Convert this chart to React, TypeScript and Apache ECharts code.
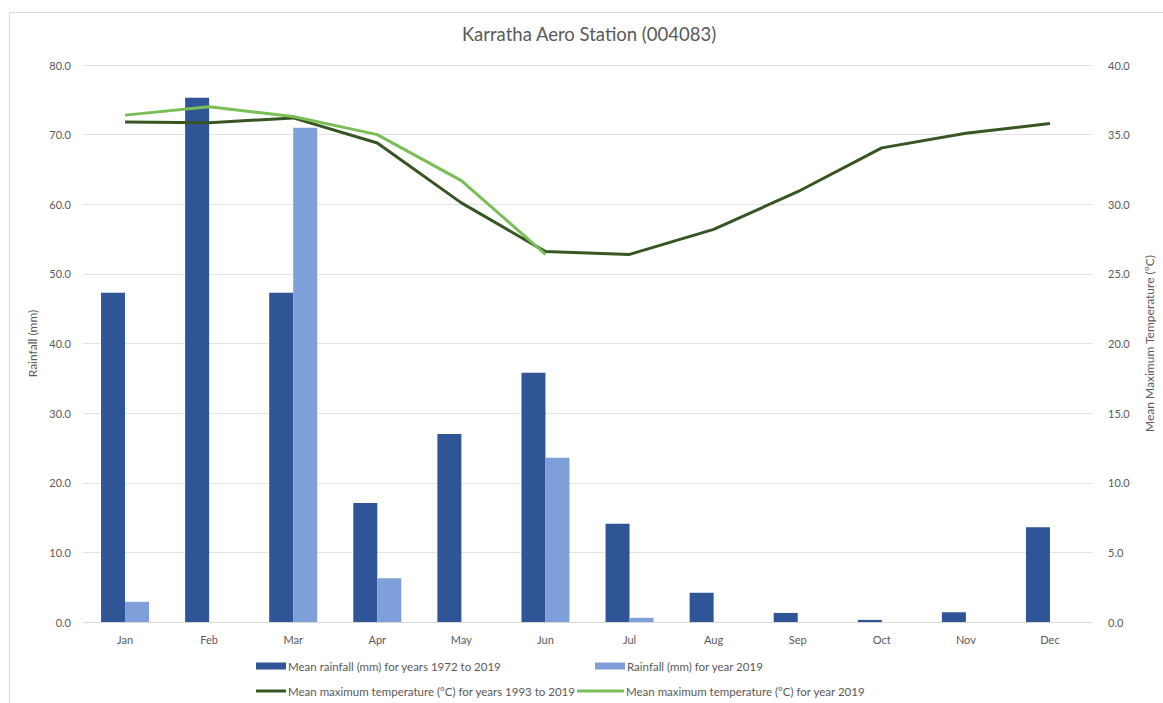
import React, { useEffect, useRef } from "react";
import * as echarts from "echarts";

const months = ["Jan", "Feb", "Mar", "Apr", "May", "Jun", "Jul", "Aug", "Sep", "Oct", "Nov", "Dec"];
const meanRainfall = [47.3, 75.3, 47.3, 17.1, 27.0, 35.8, 14.1, 4.2, 1.3, 0.3, 1.4, 13.6];
const rainfall2019 = [2.9, 0, 71.0, 6.3, 0, 23.6, 0.6, 0, 0, 0, 0, 0];
const meanMaxTemp = [35.9, 35.85, 36.2, 34.4, 30.1, 26.6, 26.4, 28.2, 30.9, 34.05, 35.1, 35.8];
const maxTemp2019 = [36.4, 37.0, 36.3, 35.0, 31.7, 26.4, null, null, null, null, null, null];
const leftTicks = { min: 0, max: 80, interval: 10 };
const rightTicks = { min: 0, max: 40, interval: 5 };

const names = [
  "Mean rainfall (mm) for years 1972 to 2019",
  "Rainfall (mm) for year 2019",
  "Mean maximum temperature (°C) for years 1993 to 2019",
  "Mean maximum temperature (°C) for year 2019",
];

const FONT = "Lato";
const TXT = "#595959";

export default function App() {
  const ref = useRef<HTMLDivElement>(null);
  useEffect(() => {
    if (!ref.current) return;
    const chart = echarts.init(ref.current, null, { renderer: "svg" });
    const mkLegend = (name: string, left: number, top: number, line: boolean, w: number) => ({
      data: [{ name, icon: "rect" }],
      left,
      top,
      itemWidth: w,
      itemHeight: line ? 3 : 7,
      itemGap: 0,
      textStyle: { color: TXT, fontFamily: FONT, fontSize: 11.5, padding: [0, 0, 0, -3] },
      selectedMode: false,
      padding: 0,
    });
    chart.setOption({
      animation: false,
      backgroundColor: "#fff",
      textStyle: { fontFamily: FONT },
      title: {
        text: "Karratha Aero Station (004083)",
        left: 584,
        textAlign: "center",
        top: 19,
        textStyle: { color: TXT, fontFamily: FONT, fontSize: 18.5, fontWeight: "normal" },
      },
      graphic: [
        {
          type: "rect",
          shape: { x: 9.5, y: 12.5, width: 1300, height: 900 },
          style: { fill: "none", stroke: "#d9d9d9", lineWidth: 1 },
          silent: true,
          z: -1,
        },
      ],
      legend: [
        mkLegend(names[0], 256, 660, false, 30),
        mkLegend(names[1], 595, 660, false, 30),
        mkLegend(names[2], 256, 685, true, 30),
        mkLegend(names[3], 577, 685, true, 47),
      ],
      grid: { left: 83, right: 66, top: 65, bottom: 81 },
      xAxis: {
        type: "category",
        data: months,
        axisLine: { lineStyle: { color: "#d9d9d9" } },
        axisTick: { show: false },
        axisLabel: { color: TXT, fontFamily: FONT, fontSize: 11, margin: 12 },
      },
      yAxis: [
        {
          type: "value",
          ...leftTicks,
          name: "Rainfall (mm)",
          nameLocation: "middle",
          nameRotate: 90,
          nameGap: 45,
          nameTextStyle: { color: TXT, fontFamily: FONT, fontSize: 12 },
          axisLine: { show: false },
          axisTick: { show: false },
          splitLine: { lineStyle: { color: "#e3e3e3" } },
          axisLabel: { color: TXT, fontFamily: FONT, fontSize: 11, margin: 12, formatter: (v: number) => v.toFixed(1) },
        },
        {
          type: "value",
          ...rightTicks,
          position: "right",
          name: "Mean Maximum Temperature (°C)",
          nameLocation: "middle",
          nameRotate: 90,
          nameGap: 51,
          nameTextStyle: { color: TXT, fontFamily: FONT, fontSize: 12 },
          axisLine: { show: false },
          axisTick: { show: false },
          splitLine: { show: false },
          axisLabel: { color: TXT, fontFamily: FONT, fontSize: 11, margin: 16, formatter: (v: number) => v.toFixed(1) },
        },
      ],
      series: [
        {
          name: names[0],
          type: "bar",
          data: meanRainfall,
          barWidth: 24,
          barGap: "0%",
          itemStyle: { color: "#2F5597" },
        },
        {
          name: names[1],
          type: "bar",
          data: rainfall2019,
          barWidth: 24,
          barGap: "0%",
          itemStyle: { color: "#7F9FD8" },
        },
        {
          name: names[2],
          type: "line",
          yAxisIndex: 1,
          data: meanMaxTemp,
          symbol: "none",
          lineStyle: { color: "#375623", width: 3 },
          itemStyle: { color: "#375623" },
          z: 3,
        },
        {
          name: names[3],
          type: "line",
          yAxisIndex: 1,
          data: maxTemp2019,
          symbol: "none",
          lineStyle: { color: "#79BF56", width: 3 },
          itemStyle: { color: "#79BF56" },
          z: 4,
        },
      ],
    });
    return () => chart.dispose();
  }, []);
  return (
    <div
      ref={ref}
      style={{ position: "absolute", left: 0, top: 0, width: 1163, height: 703 }}
    />
  );
}
